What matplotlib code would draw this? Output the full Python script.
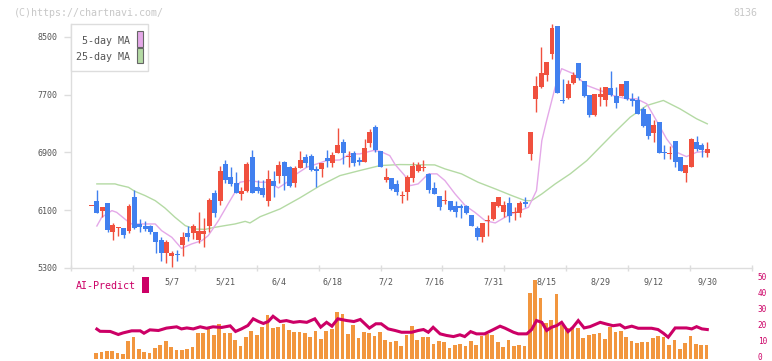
import numpy as np
import matplotlib
matplotlib.use('Agg')
import matplotlib.pyplot as plt
from matplotlib.patches import Rectangle
from matplotlib.transforms import ScaledTranslation

# ---------------- data ----------------
opens = [6155,6233,6085,6206,5794,5849,5849,5808,6289,5910,
         5882,5882,5794,5692,5508,5466,5485,5623,5790,5790,
         5688,5772,5887,6344,6224,6747,6566,6483,6326,6362,
         6843,6418,6409,6224,6511,6580,6765,6696,6474,6682,
         6843,6857,6677,6677,6820,6751,6899,7051,6834,6889,
         6797,6774,7028,7250,6927,6525,6552,6460,6300,6349,
         6543,6640,6692,6598,6414,6303,6229,6233,6164,6164,
         6155,6039,5855,5725,5956,5979,6164,6071,6206,6067,
         6058,6210,6885,7640,7806,7967,8264,8646,7630,7658,
         7861,8139,7889,7690,7426,7667,7630,7787,7677,7677,
         7884,7635,7621,7509,7435,7167,7319,6898,6878,7065,
         6834,6612,6705,7042,7009,6899]
highs = [6165,6386,6150,6206,5928,5873,5849,6192,6386,5984,
         5956,5896,5794,5734,5692,5530,5550,5794,5882,5910,
         6081,5988,6270,6382,6714,6802,6705,6626,6428,6765,
         6941,6525,6520,6659,6645,6788,6788,6719,6719,6927,
         6880,6880,6710,6761,6941,6903,7236,7088,6927,6927,
         6834,7088,7227,7287,6927,6682,6552,6520,6372,6590,
         6765,6765,6797,6612,6497,6303,6386,6233,6233,6187,
         6178,6039,5877,5928,6039,6219,6289,6233,6280,6141,
         6233,6280,7190,7954,8361,8153,8674,8646,7921,7898,
         8013,8139,7889,7690,7704,7806,7801,8025,7806,7843,
         7884,7728,7677,7537,7435,7352,7319,7009,6987,7065,
         6834,6733,7102,7134,7028,7042]
lows = [6155,6057,6002,5794,5688,5748,5710,5780,5840,5794,
        5817,5772,5508,5401,5364,5308,5401,5461,5670,5702,
        5647,5595,5794,6011,6178,6479,6441,6340,6243,6354,
        6335,6335,6280,6155,6289,6483,6386,6418,6428,6682,
        6696,6650,6418,6557,6696,6696,6899,6742,6696,6719,
        6728,6765,6973,6903,6696,6497,6386,6310,6201,6247,
        6488,6626,6640,6340,6326,6109,6187,6095,6011,5988,
        6049,5887,5692,5655,5748,5970,6141,6011,5942,5970,
        6002,6141,6797,7460,7792,7888,8190,7723,7581,7645,
        7852,7898,7672,7398,7412,7551,7551,7677,7521,7677,
        7621,7551,7440,7250,7088,7042,6889,6811,6811,6696,
        6640,6488,6696,6927,6834,6834]
closes = [6165,6057,6150,5831,5900,5863,5762,6164,5849,5873,
          5840,5794,5665,5503,5665,5503,5478,5725,5725,5882,
          5808,5817,6247,6067,6650,6525,6465,6344,6362,6737,
          6335,6372,6316,6534,6441,6733,6580,6441,6687,6802,
          6751,6659,6640,6761,6779,6871,7000,6889,6857,6761,
          6774,6968,7190,6941,6696,6566,6396,6355,6306,6557,
          6710,6733,6700,6377,6326,6141,6237,6109,6071,6127,
          6058,5887,5734,5928,5964,6219,6280,6178,6025,6075,
          6206,6187,7190,7815,8001,8153,8628,7723,7612,7843,
          7967,7935,7686,7426,7704,7704,7801,7694,7584,7843,
          7635,7607,7440,7264,7134,7287,6889,6890,6885,6774,
          6640,6733,7088,6950,6941,6945]

# moving averages (candle index, value)
ma5_idx = [1, 1.9, 3.8, 4.7, 6.6, 7.5, 8.7, 11.9, 13.1, 15, 16.8, 18.7, 20.6, 21.8,
           23.7, 25.5, 26.8, 27.7, 29.6, 31.5, 33.3, 34.9, 36.5, 38.3, 40.2, 42.1,
           43.9, 46.4, 48.3, 50.1, 52.6, 53.9, 55.7, 56.7, 58.5, 59.5, 61, 62.9, 64.5,
           66, 67.9, 69.8, 71.6, 73.5, 75.4, 77.2, 79.1, 81.6, 82.2, 83.1, 84.1, 85,
           86.6, 87.8, 90, 92.5, 95, 97.4, 99.9, 101.8, 103.7, 105.5, 107.4, 109.3,
           111.1, 113, 115]
ma5_val = [5882, 6002, 6095, 6071, 5956, 5910, 5910, 5910, 5817, 5725, 5572, 5633, 5679, 5748,
           5956, 6187, 6349, 6488, 6511, 6488, 6488, 6409, 6488, 6604, 6696, 6742,
           6788, 6797, 6880, 6880, 6927, 6917, 6857, 6733, 6580, 6441, 6465, 6604, 6604,
           6511, 6326, 6164, 6071, 5956, 5924, 6002, 6071, 6141, 6233, 6372, 7065, 7343,
           7806, 8061, 7991, 7829, 7759, 7690, 7644, 7644, 7574, 7343, 7089, 6903,
           6843, 6903, 6917]
ma25_idx = [1, 4.4, 5, 6.9, 8.1, 10, 11.9, 13.7, 15.6, 17.5, 19.3, 21.2, 23, 24.9, 26.8,
            28.7, 29.6, 31.5, 35.2, 38.9, 42.7, 46.4, 50.1, 53.9, 57.6, 64.1, 66, 69.1,
            72.2, 75.4, 78.5, 81, 82.2, 84.1, 86.6, 89.4, 92.5, 97.4, 100.6, 103.7,
            106.8, 109.9, 113, 115]
ma25_val = [6465, 6465, 6451, 6418, 6362, 6303, 6233, 6132, 6002, 5887, 5840, 5835, 5863, 5887, 5910,
            5946, 5924, 6011, 6118, 6271, 6441, 6580, 6650, 6719, 6733, 6728, 6673, 6604,
            6488, 6396, 6303, 6233, 6233, 6326, 6465, 6604, 6788, 7158, 7389, 7551,
            7621, 7505, 7367, 7297]

vol_start = 1
volume = [3.6,4.2,4.8,4.8,3.6,3.0,11.1,13.6,6.1,4.2,
          3.6,6.7,8.6,11.1,7.3,5.4,5.4,6.1,6.9,16.1,
          16.1,19.8,14.8,21.7,16.1,16.1,11.7,8.0,13.6,16.9,
          14.8,19.8,27.3,19.2,19.8,21.7,18.0,16.7,16.7,16.1,
          13.6,17.3,12.3,17.3,18.6,29.2,27.9,15.4,21.1,13.0,
          16.7,16.1,14.2,16.7,11.7,10.4,11.1,8.0,14.8,20.4,
          11.7,13.6,13.6,9.2,11.1,10.4,6.7,8.6,9.2,8.0,
          11.1,8.6,14.2,15.4,14.8,10.4,7.3,11.7,8.0,8.6,
          8.0,41.1,49.2,38.0,22.3,24.2,40.4,21.1,19.2,19.2,
          19.2,13.0,14.8,15.4,16.1,12.3,19.8,16.7,17.3,13.6,
          11.1,9.8,10.4,10.4,13.0,14.2,13.6,8.6,11.7,6.1,
          9.8,14.2,9.2,8.6,8.6]

ai_idx = [1, 1.6, 3.5, 5, 5.9, 7.5, 9.1, 9.8, 10.9, 12.5, 14, 15.9, 16.8, 17.8, 19, 20.3,
          21.5, 22.7, 24.3, 25.9, 26.9, 28, 29.2, 30.2, 31.2, 32.1, 33, 33.9, 35.2, 36.4,
          37.7, 38.9, 40.2, 41.7, 42.8, 43.9, 44.9, 46, 47.7, 49, 50.2, 51.9, 53.1, 54.1,
          55.4, 56.7, 57.9, 59.8, 61, 62, 62.9, 63.8, 65.1, 66.3, 67.6, 68.8, 69.7, 70.8,
          71.9, 73.4, 74.7, 76.3, 77.2, 78.8, 79.7, 81.3, 82.2, 83.1, 84.1, 85, 85.9,
          86.9, 87.8, 89, 89.9, 90.9, 92, 93.1, 95, 96.2, 97.4, 98.7, 99.6, 100.9,
          102.1, 104.6, 105.8, 106.8, 107.7, 109, 111.1, 112.1, 113, 114, 115]
ai_val = [18.4, 17.0, 16.9, 15.0, 16.0, 17.3, 17.3, 15.8, 17.9, 17.5, 19.0, 19.8, 18.5, 19.1, 18.5, 19.8,
          18.9, 19.8, 19.4, 20.4, 16.9, 18.5, 20.6, 24.8, 23.1, 21.9, 23.1, 26.4, 23.1, 23.7,
          22.6, 23.1, 22.6, 24.8, 19.6, 22.6, 20.2, 24.8, 23.7, 23.1, 24.4, 19.0, 21.7, 21.7,
          18.5, 17.5, 16.4, 16.4, 17.5, 18.1, 16.4, 19.5, 15.4, 14.4, 13.7, 14.8, 13.7, 16.8,
          15.4, 15.4, 17.5, 20.2, 19.0, 16.4, 15.4, 15.4, 18.1, 23.7, 22.6, 17.5, 19.5,
          20.6, 22.6, 16.8, 19.5, 23.7, 19.1, 19.9, 22.6, 21.5, 20.5, 21.1, 19.1, 20.2,
          18.9, 18.9, 18.1, 15.8, 13.3, 19.1, 19.1, 18.5, 19.9, 18.5, 18.1]

date_labels = ['5/7', '5/21', '6/4', '6/18', '7/2', '7/16', '7/31', '8/15', '8/29', '9/12', '9/30']
date_idx = [15, 25, 35, 45, 55, 64, 75, 85, 95, 105, 115]
price_ticks = [5300, 6100, 6900, 7700, 8500]
ai_ticks = [0, 10, 20, 30, 40, 50]

# ---------------- styling ----------------
W, H = 772, 361
RED = '#f0503e'
BLUE = '#4180ef'
ORANGE = '#f2963e'
MAG = '#cc0066'
PINK = '#e4a8e8'
GREEN = '#b4daa4'
AXC = '#dddddd'
TXT = '#555555'
MONO = 'DejaVu Sans Mono'

def fx(px):
    return px / W

def fy(py):
    return 1 - py / H

fig = plt.figure(figsize=(W / 100, H / 100), dpi=100)
fig.patch.set_facecolor('white')

XMIN, XMAX = -3.83, 123.35

# ---------------- main price panel ----------------
ax = fig.add_axes([fx(71), fy(268), fx(752) - fx(71), fy(24) - fy(268)])
ax.set_xlim(XMIN, XMAX)
ax.set_ylim(5300, 8680)

n = len(opens)
x = np.arange(n)
o = np.array(opens, float)
c = np.array(closes, float)
hi = np.array(highs, float)
lo = np.array(lows, float)
cols = [RED if cc >= oo else BLUE for oo, cc in zip(o, c)]

ax.plot(ma25_idx, ma25_val, color=GREEN, lw=1.0, zorder=2)
ax.plot(ma5_idx, ma5_val, color=PINK, lw=1.0, zorder=2)

ax.vlines(x, lo, hi, colors=cols, lw=1.0, zorder=3)
body_bottom = np.minimum(o, c)
body_h = np.maximum(np.abs(c - o), 14)
ax.bar(x, body_h, bottom=body_bottom, width=0.93, color=cols, linewidth=0, zorder=4)

for s in ['top', 'right']:
    ax.spines[s].set_visible(False)
for s in ['left', 'bottom']:
    ax.spines[s].set_color(AXC)
    ax.spines[s].set_linewidth(1.0)

ax.set_yticks(price_ticks)
ax.set_yticklabels([str(v) for v in price_ticks], fontfamily=MONO, fontsize=6, color=TXT)
ax.tick_params(axis='y', length=5, width=1, color=AXC, pad=5)

ax.set_xticks(date_idx)
ax.set_xticklabels(date_labels, fontfamily=MONO, fontsize=6, color=TXT)
ax.tick_params(axis='x', which='major', length=0, pad=7)
ax.set_xticks(np.linspace(XMIN, XMAX, 12), minor=True)
ax.tick_params(axis='x', which='minor', length=5, width=1, color=AXC, direction='inout')

# legend box
fig.patches.append(Rectangle((fx(70.5), fy(71)), fx(148) - fx(70.5), fy(24) - fy(71),
                             transform=fig.transFigure, facecolor='white', edgecolor=AXC,
                             lw=1.0, zorder=10))
fig.text(fx(129.5), fy(41), '5-day MA', ha='right', va='center', fontfamily=MONO,
         fontsize=7.2, color=TXT, zorder=11)
fig.text(fx(129.5), fy(57), '25-day MA', ha='right', va='center', fontfamily=MONO,
         fontsize=7.2, color=TXT, zorder=11)
fig.patches.append(Rectangle((fx(136.5), fy(46.5)), fx(142.5) - fx(136.5), fy(31.5) - fy(46.5),
                             transform=fig.transFigure, facecolor=PINK, edgecolor='#666666',
                             lw=0.8, zorder=11))
fig.patches.append(Rectangle((fx(136.5), fy(63)), fx(142.5) - fx(136.5), fy(48) - fy(63),
                             transform=fig.transFigure, facecolor=GREEN, edgecolor='#666666',
                             lw=0.8, zorder=11))

# watermark / code
fig.text(fx(14), fy(12.5), '(C)https://chartnavi.com/', ha='left', va='center',
         fontfamily=MONO, fontsize=7.2, color='#c8c8c8')
fig.text(fx(757), fy(12.5), '8136', ha='right', va='center',
         fontfamily=MONO, fontsize=7.2, color='#c8c8c8')

# ---------------- lower AI-predict panel ----------------
ax2 = fig.add_axes([fx(71), fy(358.5), fx(752) - fx(71), fy(278.5) - fy(358.5)])
ax2.set_xlim(XMIN, XMAX)
ax2.set_ylim(0, 50)
ax2.patch.set_alpha(0)
for s in ax2.spines.values():
    s.set_visible(False)
vx = np.arange(vol_start, vol_start + len(volume)) - 0.15
ax2.bar(vx, volume, width=0.69, color=ORANGE, linewidth=0, zorder=2)
ax2.plot(ai_idx, ai_val, color=MAG, lw=2.2, zorder=3, solid_joinstyle='miter')
ax2.set_xticks([])
ax2.yaxis.tick_right()
ax2.set_yticks(ai_ticks)
ax2.set_yticklabels([str(v) for v in ai_ticks], fontfamily=MONO, fontsize=5.6, color=MAG)
ax2.tick_params(axis='y', length=0, pad=4)
shift = ScaledTranslation(0, 1.2 / 72, fig.dpi_scale_trans)
for lab in ax2.get_yticklabels():
    lab.set_transform(lab.get_transform() + shift)

fig.text(fx(76), fy(286), 'AI-Predict', ha='left', va='center', fontfamily=MONO,
         fontsize=7.2, color=MAG)
fig.patches.append(Rectangle((fx(142), fy(293)), fx(149) - fx(142), fy(277) - fy(293),
                             transform=fig.transFigure, facecolor=MAG, edgecolor='none'))

fig.savefig('out.png', dpi=100, facecolor='white')
